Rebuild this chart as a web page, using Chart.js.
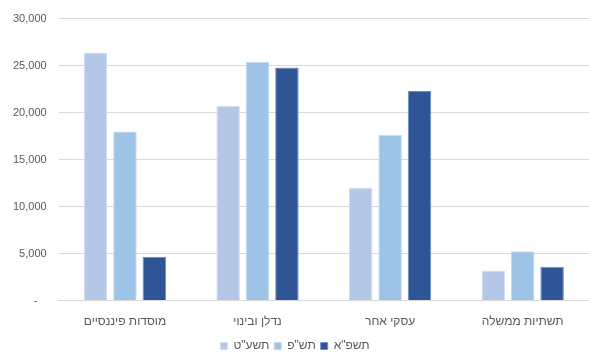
<!DOCTYPE html>
<html>
<head>
<meta charset="utf-8">
<script src="https://cdn.jsdelivr.net/npm/chart.js@4"></script>
<style>
  body { margin: 0; background: #fff; }
  #wrap { width: 589px; height: 353px; }
</style>
</head>
<body>
<div id="wrap"><canvas id="sectorChart" width="589" height="353"></canvas></div>
<script>
const categories = ['מוסדות פיננסיים', 'נדלן ובינוי', 'עסקי אחר', 'תשתיות ממשלה'];
const seriesNames = ['תשע"ט', 'תש"פ', 'תשפ"א'];
const values5779 = [26400, 20700, 12000, 3200];
const values5780 = [18000, 25400, 17650, 5250];
const values5781 = [4650, 24800, 22300, 3600];
const yTicks = [0, 5000, 10000, 15000, 20000, 25000, 30000];

const fills = ['#b4c7e7', '#9dc3e6', '#2f5597'];
const edges = ['#d2dff2', '#c2daf0', '#6f8fc4'];
const allValues = [values5779, values5780, values5781];

const font = "'Liberation Sans', 'DejaVu Sans', sans-serif";
const grey = '#595959';

// keep the legend strip short so the plot gets the room
const legendHeight = {
    id: 'legendHeight',
    beforeInit(chart) {
        const fit = chart.legend.fit;
        chart.legend.fit = function () {
            fit.call(this);
            this.height = 18;
        };
    }
};

const ctx = document.getElementById('sectorChart').getContext('2d');
const sectorChart = new Chart(ctx, {
    type: 'bar',
    data: {
        labels: categories,
        datasets: seriesNames.map((name, i) => ({
            label: name,
            data: allValues[i],
            backgroundColor: fills[i],
            borderColor: edges[i],
            borderWidth: 1,
            barPercentage: 0.8,
            categoryPercentage: 0.665
        }))
    },
    options: {
        responsive: false,
        animation: false,
        layout: { padding: { top: 3, right: 0, left: 1, bottom: 0 } },
        plugins: {
            legend: {
                position: 'bottom',
                labels: {
                    boxWidth: 7,
                    boxHeight: 7,
                    padding: 5,
                    color: grey,
                    font: { family: font, size: 12 }
                }
            },
            tooltip: { enabled: false }
        },
        scales: {
            x: {
                grid: { display: false },
                border: { color: '#d9d9d9' },
                ticks: {
                    color: grey,
                    padding: 6,
                    font: { family: font, size: 12 }
                }
            },
            y: {
                min: 0,
                max: 30000,
                afterBuildTicks: axis => {
                    axis.ticks = yTicks.map(v => ({ value: v }));
                },
                grid: { color: '#d9d9d9', drawTicks: false },
                border: { display: false },
                ticks: {
                    color: grey,
                    padding: 12,
                    font: { family: font, size: 11 },
                    callback: v => v === 0 ? '-   ' : v.toLocaleString('en-US')
                }
            }
        }
    },
    plugins: [legendHeight]
});
</script>
</body>
</html>
